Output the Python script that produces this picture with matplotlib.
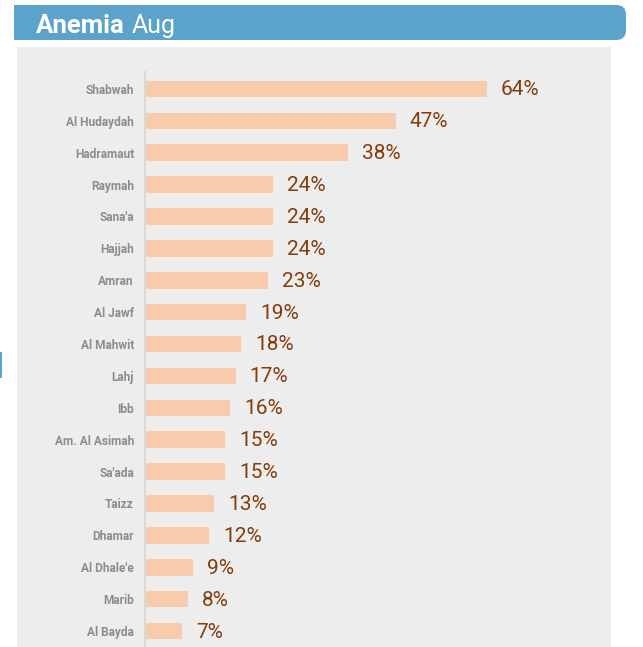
import matplotlib
matplotlib.use('Agg')
import matplotlib.pyplot as plt
from matplotlib.patches import Rectangle, FancyBboxPatch

regiones = ['Shabwah', 'Al Hudaydah', 'Hadramaut', 'Raymah', "Sana'a", 'Hajjah', 'Amran',
            'Al Jawf', 'Al Mahwit', 'Lahj', 'Ibb', 'Am. Al Asimah', "Sa'ada", 'Taizz',
            'Dhamar', "Al Dhale'e", 'Marib', 'Al Bayda']
anemia = [64, 47, 38, 24, 24, 24, 23, 19, 18, 17, 16, 15, 15, 13, 12, 9, 8, 7]

fuente = ['Liberation Sans Narrow', 'Roboto', 'DejaVu Sans']
W, H = 643, 647

fig = plt.figure(figsize=(W / 100, H / 100), dpi=100)
fig.set_facecolor('white')

# panel gris
fig.patches.append(Rectangle((17 / W, 0), (611 - 17) / W, (H - 47) / H,
                             transform=fig.transFigure, facecolor='#ededed',
                             edgecolor='none', zorder=-5))
# banda del titulo
fig.patches.append(FancyBboxPatch((14 / W, (H - 40) / H), (626 - 14) / W, 35 / H,
                                  boxstyle='round,pad=0,rounding_size=0.015',
                                  transform=fig.transFigure, facecolor='#5ba3cb',
                                  edgecolor='none', zorder=-4))
fig.patches.append(Rectangle((14 / W, (H - 40) / H), 0.3, 35 / H,
                             transform=fig.transFigure, facecolor='#5ba3cb',
                             edgecolor='none', zorder=-4))
fig.patches.append(Rectangle((0, (H - 378) / H), 2 / W, 26 / H,
                             transform=fig.transFigure, facecolor='#5ba3cb',
                             edgecolor='none', zorder=-4))
fig.text(36 / W, (H - 33) / H, 'Anemia', color='white', fontsize=18.5,
         fontweight='bold', family=fuente, va='baseline')
fig.text(132 / W, (H - 33) / H, 'Aug', color='white', fontsize=18,
         family=fuente, va='baseline')

ax = fig.add_axes([145 / W, 0, (611 - 145) / W, (H - 72) / H])
ax.set_zorder(5)
ax.set_facecolor('none')
y = list(range(len(regiones)))
bars = ax.barh(y, anemia, height=0.52, color='#f8cbad')
for bar, v in zip(bars, anemia):
    ax.text(bar.get_width() + 2.6, bar.get_y() + bar.get_height() / 2 + 0.03, f'{v}%',
            va='center', ha='left', fontsize=15, color='#843c0c', family=fuente)

ax.set_xlim(0, (611 - 145) / 5.34)
ax.set_ylim(len(regiones) - 0.5, -0.53)
ax.set_yticks(y)
ax.set_yticklabels(regiones, fontsize=8.6, fontweight='bold', color='#8c8c8c',
                   family=fuente)
ax.tick_params(axis='y', length=0, pad=8)
ax.set_xticks([])
for s in ['top', 'right', 'bottom']:
    ax.spines[s].set_visible(False)
ax.spines['left'].set_color('#d9d9d9')
ax.spines['left'].set_linewidth(1.5)

plt.savefig('out.png', dpi=100)
plt.close()
